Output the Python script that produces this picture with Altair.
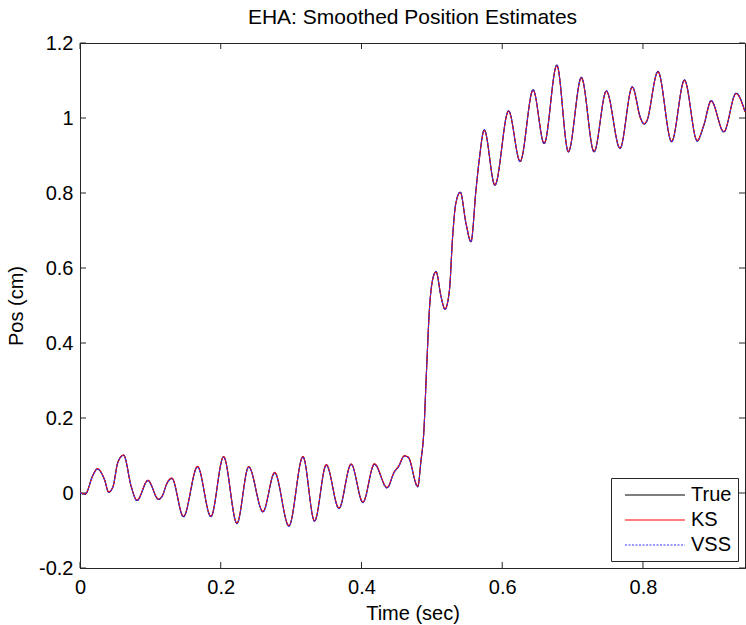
import altair as alt
import pandas as pd

TIME = [0.000, 0.0075, 0.0184, 0.0246, 0.035, 0.0407, 0.0468, 0.0539, 0.062, 0.0728, 0.0809,
        0.0965, 0.1116, 0.1177, 0.1225, 0.1305, 0.147, 0.167, 0.186, 0.204, 0.223, 0.2397,
        0.260, 0.2766, 0.2969, 0.3168, 0.3333, 0.350, 0.368, 0.3853, 0.402, 0.4184, 0.4364,
        0.4468, 0.4525, 0.461, 0.4665, 0.480, 0.4845, 0.4885, 0.4925, 0.4965, 0.501, 0.506,
        0.513, 0.5187, 0.525, 0.5295, 0.534, 0.5404, 0.5485, 0.5556, 0.5627, 0.5674, 0.5745,
        0.5896, 0.609, 0.6255, 0.6439, 0.6596, 0.6776, 0.694, 0.7125, 0.7305, 0.748, 0.7674,
        0.7848, 0.7967, 0.8014, 0.805, 0.8213, 0.8407, 0.859, 0.877, 0.8865, 0.8969, 0.9149,
        0.9323, 0.945]

TRUE_POS = [0.000, -0.003, 0.048, 0.064, 0.035, 0.002, 0.017, 0.083, 0.101, 0.017, -0.020,
            0.033, -0.017, -0.005, 0.021, 0.039, -0.063, 0.070, -0.063, 0.097, -0.081, 0.070,
            -0.050, 0.054, -0.088, 0.097, -0.075, 0.075, -0.041, 0.077, -0.025, 0.077, 0.014,
            0.057, 0.070, 0.099, 0.095, 0.017, 0.085, 0.160, 0.330, 0.488, 0.568, 0.590,
            0.524, 0.490, 0.541, 0.683, 0.772, 0.802, 0.719, 0.670, 0.808, 0.890, 0.968,
            0.821, 1.019, 0.884, 1.075, 0.932, 1.141, 0.910, 1.108, 0.910, 1.072, 0.919,
            1.083, 0.999, 0.984, 0.990, 1.124, 0.937, 1.101, 0.939, 0.981, 1.046, 0.963,
            1.066, 1.017]

KS_POS = [0.001, -0.002, 0.047, 0.065, 0.035, 0.003, 0.016, 0.082, 0.101, 0.018, -0.019,
          0.034, -0.016, -0.005, 0.022, 0.040, -0.062, 0.071, -0.062, 0.097, -0.080, 0.070,
          -0.049, 0.055, -0.087, 0.097, -0.074, 0.076, -0.040, 0.077, -0.024, 0.078, 0.015,
          0.057, 0.071, 0.099, 0.096, 0.018, 0.086, 0.161, 0.329, 0.488, 0.567, 0.590,
          0.525, 0.491, 0.542, 0.682, 0.771, 0.802, 0.720, 0.671, 0.807, 0.889, 0.967,
          0.822, 1.018, 0.885, 1.074, 0.933, 1.140, 0.911, 1.107, 0.911, 1.071, 0.920,
          1.082, 0.998, 0.985, 0.991, 1.123, 0.938, 1.100, 0.940, 0.982, 1.045, 0.964,
          1.065, 1.016]

VSS_POS = [0.000, -0.003, 0.047, 0.064, 0.034, 0.002, 0.016, 0.082, 0.100, 0.017, -0.021,
           0.033, -0.018, -0.006, 0.021, 0.038, -0.064, 0.069, -0.064, 0.096, -0.082, 0.069,
           -0.051, 0.053, -0.089, 0.096, -0.076, 0.074, -0.042, 0.076, -0.026, 0.076, 0.013,
           0.056, 0.069, 0.098, 0.094, 0.016, 0.084, 0.159, 0.331, 0.489, 0.569, 0.591,
           0.523, 0.489, 0.540, 0.684, 0.773, 0.803, 0.718, 0.669, 0.809, 0.891, 0.969,
           0.820, 1.020, 0.883, 1.076, 0.931, 1.142, 0.909, 1.109, 0.909, 1.073, 0.918,
           1.084, 1.000, 0.983, 0.989, 1.125, 0.936, 1.102, 0.938, 0.980, 1.047, 0.962,
           1.067, 1.018]

SERIES = ["True", "KS", "VSS"]
COLORS = ["#000000", "#ff0000", "#3333ff"]
DASHES = [[1, 0], [1, 0], [2, 1.5]]
X_TICKS = [0, 0.2, 0.4, 0.6, 0.8]
Y_TICKS = [-0.2, 0, 0.2, 0.4, 0.6, 0.8, 1.0, 1.2]

FONT = "Liberation Sans"
AXIS_COLOR = "#262626"
W, H = 665, 525

rows = []
for name, vals in zip(SERIES, [TRUE_POS, KS_POS, VSS_POS]):
    for i, (t, v) in enumerate(zip(TIME, vals)):
        rows.append({"series": name, "t": t, "v": v, "i": i})
df = pd.DataFrame(rows)

xscale = alt.Scale(domain=[0, 0.945], nice=False, zero=False)
yscale = alt.Scale(domain=[-0.2, 1.2], nice=False, zero=False)

legend = alt.Legend(
    title=None, orient="none", legendX=531, legendY=435,
    strokeColor=AXIS_COLOR, fillColor="white", padding=6,
    symbolType="M-0.3,0H5.7", symbolSize=400, symbolStrokeWidth=1.1,
    labelFont=FONT, labelFontSize=20, labelColor="black", labelOffset=52,
    rowPadding=4,
)
color = alt.Color("series:N", scale=alt.Scale(domain=SERIES, range=COLORS), legend=legend)
dash = alt.StrokeDash("series:N", scale=alt.Scale(domain=SERIES, range=DASHES), legend=legend)

xenc = alt.X("t:Q", scale=xscale,
             axis=alt.Axis(values=X_TICKS, title="Time (sec)", ticks=False, labelPadding=9,
                           titlePadding=6, labelFlush=False, labelExpr="'' + datum.value"))
yenc = alt.Y("v:Q", scale=yscale,
             axis=alt.Axis(values=Y_TICKS, title="Pos (cm)", ticks=False, labelPadding=7,
                           titlePadding=12, labelFlush=False, labelExpr="'' + datum.value"))

layers = []
for name in SERIES:
    layers.append(
        alt.Chart(df).transform_filter(alt.datum.series == name)
        .mark_line(interpolate="monotone", strokeWidth=1.1)
        .encode(x=xenc, y=yenc, color=color, strokeDash=dash, order="i:Q")
    )

xt = pd.DataFrame({"t": X_TICKS})
yt = pd.DataFrame({"v": Y_TICKS})
tick_bottom = alt.Chart(xt).mark_rule(color=AXIS_COLOR).encode(
    x=alt.X("t:Q", scale=xscale), y=alt.value(H), y2=alt.value(H - 6))
tick_top = alt.Chart(xt).mark_rule(color=AXIS_COLOR).encode(
    x=alt.X("t:Q", scale=xscale), y=alt.value(0), y2=alt.value(6))
tick_left = alt.Chart(yt).mark_rule(color=AXIS_COLOR).encode(
    y=alt.Y("v:Q", scale=yscale), x=alt.value(0), x2=alt.value(6))
tick_right = alt.Chart(yt).mark_rule(color=AXIS_COLOR).encode(
    y=alt.Y("v:Q", scale=yscale), x=alt.value(W), x2=alt.value(W - 6))

chart = alt.layer(tick_bottom, tick_top, tick_left, tick_right, *layers).properties(
    width=W, height=H, autosize="none", background="white",
    padding={"left": 80, "top": 43, "right": 1, "bottom": 57},
    title=alt.TitleParams("EHA: Smoothed Position Estimates", font=FONT, fontSize=21,
                          fontWeight="normal", color="black", anchor="middle", offset=5),
).configure_axis(
    grid=False, domainColor=AXIS_COLOR, labelFont=FONT, labelFontSize=20, labelColor="black",
    titleFont=FONT, titleFontSize=20, titleFontWeight="normal", titleColor="black",
).configure_view(stroke=AXIS_COLOR, strokeWidth=1)

chart.save("out.html", embed_options={"renderer": "svg", "actions": False})
